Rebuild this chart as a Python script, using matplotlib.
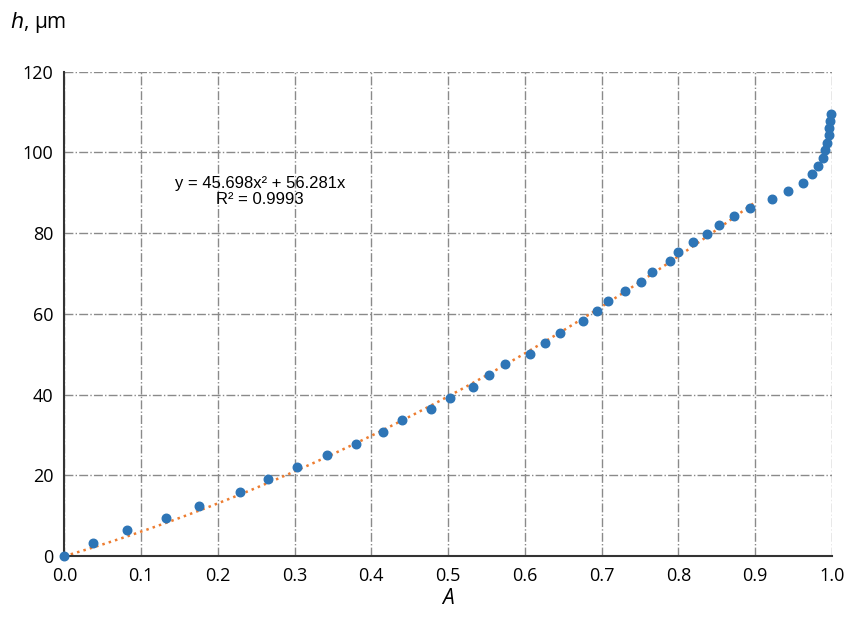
import matplotlib.pyplot as plt
import numpy as np

# measured points (A, h in um)
A = [0.0, 0.037, 0.081, 0.132, 0.175, 0.229, 0.265, 0.303, 0.342, 0.38, 0.415,
     0.44, 0.478, 0.502, 0.532, 0.553, 0.574, 0.607, 0.626, 0.646, 0.676, 0.694,
     0.709, 0.731, 0.751, 0.766, 0.789, 0.799, 0.819, 0.838, 0.853, 0.872, 0.893,
     0.922, 0.943, 0.963, 0.974, 0.982, 0.988, 0.991, 0.994, 0.996, 0.997, 0.998, 0.999]
h = [0.0, 3.3, 6.5, 9.4, 12.5, 15.8, 19.0, 22.0, 25.0, 27.8, 30.7,
     33.7, 36.5, 39.3, 42.0, 44.9, 47.5, 50.1, 52.8, 55.4, 58.2, 60.7,
     63.2, 65.7, 68.0, 70.5, 73.0, 75.4, 77.7, 79.9, 82.0, 84.2, 86.3,
     88.4, 90.4, 92.5, 94.7, 96.7, 98.5, 100.5, 102.3, 104.2, 106.0, 107.9, 109.6]

# quadratic trendline coefficients (as printed on chart), fitted range
coef_a, coef_b = 45.698, 56.281
fit_max = 0.9

plt.rcParams['font.family'] = ['Open Sans', 'DejaVu Sans']

fig = plt.figure(figsize=(8.47, 6.18), dpi=100)
ax = fig.add_axes([0.076, 0.1, 0.906, 0.784])

xf = np.linspace(0, fit_max, 200)
ax.plot(xf, coef_a * xf**2 + coef_b * xf, color='#ED7D31', linestyle=':', linewidth=1.8, zorder=2)
ax.scatter(A, h, s=38, color='#2E75B6', zorder=3, clip_on=False)

ax.set_xlim(0, 1.0)
ax.set_ylim(0, 120)
ax.set_xticks(np.arange(0, 1.01, 0.1))
ax.set_xticklabels([f"{v:.1f}" for v in np.arange(0, 1.01, 0.1)])
ax.set_yticks(range(0, 121, 20))
ax.tick_params(labelsize=13, length=0, pad=8)
ax.grid(True, color='#8a8a8a', linestyle='-.', linewidth=1)
for s in ['top', 'right']:
    ax.spines[s].set_visible(False)
for s in ['left', 'bottom']:
    ax.spines[s].set_linewidth(1.5)
    ax.spines[s].set_color('#333333')

ax.set_xlabel('A', fontsize=15, style='italic', labelpad=2)
fig.text(0.012, 0.955, r'$h$, μm', fontsize=15)

ax.text(0.255, 90.3, 'y = 45.698x² + 56.281x\nR² = 0.9993', ha='center', va='center',
        fontsize=12, family=['Liberation Sans', 'DejaVu Sans'], linespacing=1.1)

fig.savefig('out.png')
